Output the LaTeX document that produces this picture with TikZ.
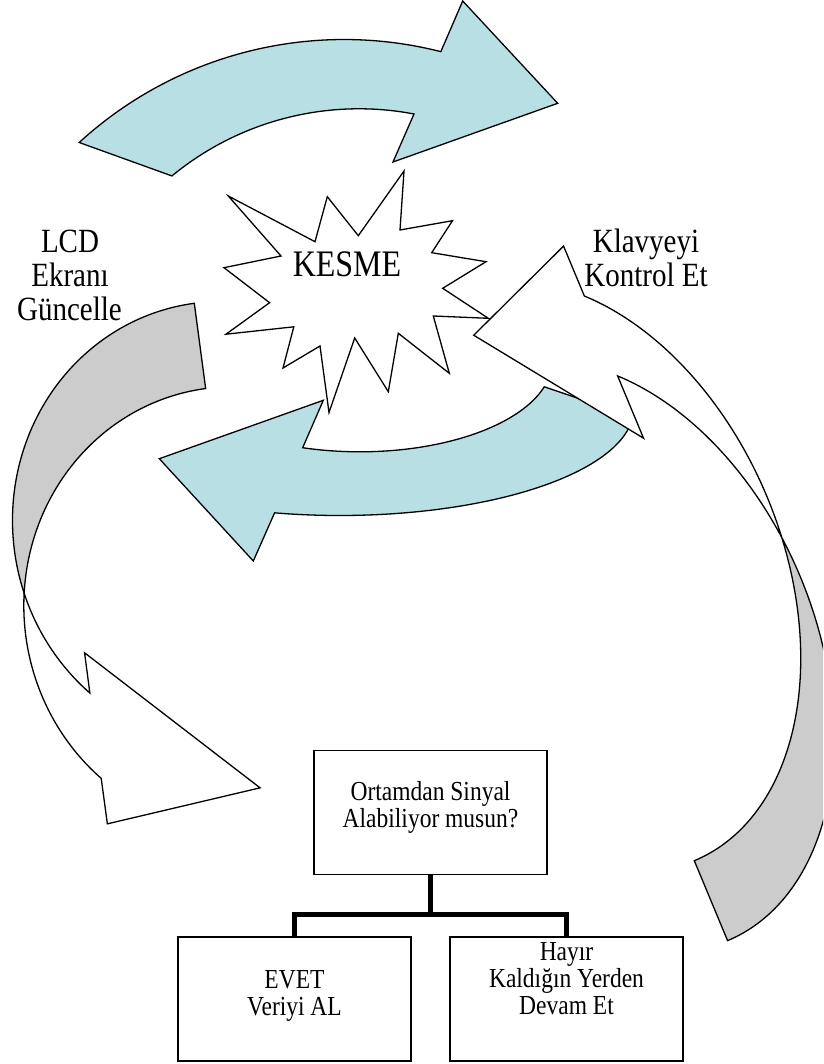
\documentclass[tikz,border=0pt]{standalone}
\usepackage{graphicx}
\usepackage{fontspec}
\setmainfont{Liberation Serif}
\definecolor{arrowblue}{RGB}{184,223,228}
\definecolor{backgray}{RGB}{204,204,204}
% the lettering is set slightly taller than the font's natural shape
\newcommand{\tallglyphs}[1]{\scalebox{1}[1.17]{#1}}
\begin{document}
\begin{tikzpicture}[x=1pt, y=-1pt,
  outline/.style={draw=black, line width=1.3pt, line join=miter},
  bluearrow/.style={outline, fill=arrowblue},
  backpart/.style={outline, fill=backgray},
  frontpart/.style={outline, fill=white},
  sidetext/.style={font=\fontsize{29}{34}\selectfont, anchor=base, inner sep=0pt},
  bursttext/.style={font=\fontsize{32}{38}\selectfont, anchor=base, inner sep=0pt},
  boxtext/.style={font=\fontsize{23.5}{27}\selectfont, anchor=base, inner sep=0pt},
  qbox/.style={draw=black, line width=1.8pt, minimum width=233pt, minimum height=124pt, inner sep=0pt},
  conn/.style={draw=black, line width=5pt, line join=miter}
]
\useasboundingbox (0,0) rectangle (823,1064);
\fill[white] (0,0) rectangle (823,1064);
\clip (0,0) rectangle (823,1064);

% upper curved arrow, pointing right
\filldraw[bluearrow] (79.2,142.5) arc[start angle=-132.5, end angle=-75.7, radius=392]
  -- (462.7,1) -- (557.7,103.3) -- (393,162) -- (414,114)
  arc[start angle=-79.2, end angle=-129.5, radius=294] -- cycle;

% starburst
\filldraw[outline, fill=white] (228.3,196) -- (315,241.7) -- (327.3,196.7) -- (358.3,235.7)
  -- (404,171) -- (400,230) -- (452.5,220.7) -- (431.7,252.7) -- (486,261.7)
  -- (442.7,288.3) -- (488.3,318.3) -- (433.3,316) -- (449.3,373.3) -- (398.3,333.3)
  -- (388.3,391.7) -- (354.7,338) -- (329,412.5) -- (320,346) -- (283,368)
  -- (293.8,326.8) -- (226,334.2) -- (269.6,302.7) -- (224,267.7) -- (281,256) -- cycle;
\node[bursttext] (kesme) at (347,276.5) {\tallglyphs{KESME}};

% left twisted arrow: shaded back part and white front with head
\begin{scope}[shift={(194.3,303.3)}, rotate=7.6]
  \filldraw[backpart] (0,0) arc[start angle=-90, end angle=-191.17, x radius=211, y radius=222]
    arc[start angle=-168.83, end angle=-90, x radius=211, y radius=222] -- cycle;
  \filldraw[frontpart] (-207,265) arc[start angle=-191.17, end angle=-222.7, x radius=211, y radius=222]
    -- (-155,331.9) -- (1.1,489) -- (-155,504.5) -- (-155.1,458.6)
    arc[start angle=-222.7, end angle=-168.83, x radius=211, y radius=222] -- cycle;
\end{scope}

% lower curved arrow, pointing left
\filldraw[bluearrow] (159.3,458.7) -- (323.3,400.3) -- (302.7,447.7)
  arc[start angle=107.3, end angle=16.5, x radius=192.3, y radius=90.8]
  -- (632.8,416.9)
  arc[start angle=4.5, end angle=102.8, x radius=294, y radius=107]
  -- (253.3,561) -- cycle;

% right twisted arrow: shaded back part and white front with head
\begin{scope}[shift={(694.3,860.7)}, rotate=22.6]
  \filldraw[backpart] (0,0) arc[start angle=90, end angle=8.08, x radius=207, y radius=308]
    arc[start angle=-8.08, end angle=90, x radius=207, y radius=308] -- cycle;
  \filldraw[frontpart] (115.5,-563.6) arc[start angle=-56.09, end angle=8.08, x radius=207, y radius=308]
    arc[start angle=-8.08, end angle=-56.09, x radius=207, y radius=308]
    -- (115.5,-409.6) -- (-1.7,-569.9) -- (115.5,-617.7) -- cycle;
\end{scope}

% side captions
\node[sidetext] (lcd1) at (70,252.5) {\tallglyphs{LCD}};
\node[sidetext] (lcd2) at (70,286.5) {\tallglyphs{Ekranı}};
\node[sidetext] (lcd3) at (69.5,320.5) {\tallglyphs{Güncelle}};
\node[sidetext] (kb1) at (646,252.5) {\tallglyphs{Klavyeyi}};
\node[sidetext] (kb2) at (646,286.5) {\tallglyphs{Kontrol Et}};

% decision tree
\node[qbox] (q) at (430.5,812.5) {};
\node[qbox] (yes) at (294.5,999.3) {};
\node[qbox] (no) at (566.5,999.3) {};
\coordinate (j) at (430.5,914);
\draw[conn] (q.south) -- (j);
\draw[conn] (yes.north) |- (j) -| (no.north);

\node[boxtext] (q1) at (430.5,800) {\tallglyphs{Ortamdan Sinyal}};
\node[boxtext] (q2) at (430.5,827) {\tallglyphs{Alabiliyor musun?}};
\node[boxtext] (y1) at (294.5,988) {\tallglyphs{EVET}};
\node[boxtext] (y2) at (294.5,1015) {\tallglyphs{Veriyi AL}};
\node[boxtext] (n1) at (566.5,960) {\tallglyphs{Hayır}};
\node[boxtext] (n2) at (566.5,987) {\tallglyphs{Kaldığın Yerden}};
\node[boxtext] (n3) at (566.5,1014) {\tallglyphs{Devam Et}};
\end{tikzpicture}
\end{document}
